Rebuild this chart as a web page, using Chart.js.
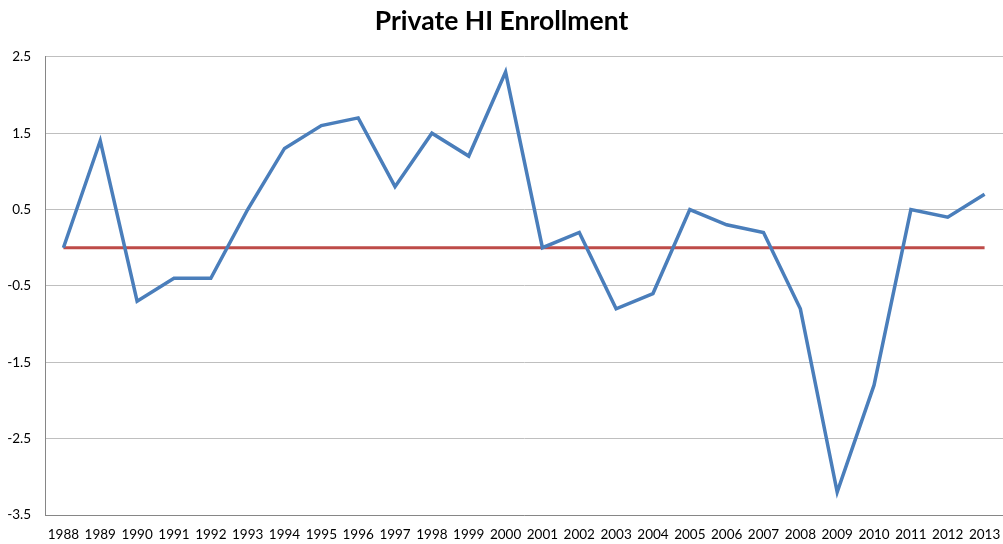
<!DOCTYPE html>
<html>
<head>
<meta charset="utf-8">
<script src="https://cdn.jsdelivr.net/npm/chart.js@4/dist/chart.umd.min.js"></script>
<style>
  html, body { margin: 0; padding: 0; background: #fff; }
</style>
</head>
<body>
<canvas id="chart" width="1003" height="544"></canvas>
<script>
const years = ['1988', '1989', '1990', '1991', '1992', '1993', '1994', '1995', '1996', '1997', '1998', '1999', '2000',
    '2001', '2002', '2003', '2004', '2005', '2006', '2007', '2008', '2009', '2010', '2011', '2012', '2013'];
const enrollment = [0, 1.4, -0.7, -0.4, -0.4, 0.5, 1.3, 1.6, 1.7, 0.8, 1.5, 1.2, 2.3,
    0, 0.2, -0.8, -0.6, 0.5, 0.3, 0.2, -0.8, -3.2, -1.8, 0.5, 0.4, 0.7];
const baseline = years.map(() => 0);

const ctx = document.getElementById('chart').getContext('2d');
Chart.defaults.font.family = 'Lato, "Open Sans", sans-serif';
Chart.defaults.color = '#000';

new Chart(ctx, {
    type: 'line',
    data: {
        labels: years,
        datasets: [{
            data: enrollment,
            borderColor: '#4A7EBB',
            borderWidth: 3.5,
            pointRadius: 0,
            tension: 0
        }, {
            data: baseline,
            borderColor: '#BE4B48',
            borderWidth: 3,
            pointRadius: 0
        }]
    },
    options: {
        responsive: false,
        animation: false,
        layout: { padding: { left: 0, right: 0, top: 6, bottom: 0 } },
        plugins: {
            legend: { display: false },
            tooltip: { enabled: false },
            title: {
                display: true,
                text: 'Private HI Enrollment',
                font: { size: 26.5, weight: 'bold' },
                padding: { top: 0, bottom: 19 }
            }
        },
        scales: {
            x: {
                offset: true,
                afterFit: (axis) => { axis.paddingLeft = 0; axis.paddingRight = 0; axis.height = 29; },
                grid: { display: false, drawTicks: false },
                border: { color: '#868686' },
                ticks: { font: { size: 13.5 }, maxRotation: 0, autoSkip: false, padding: 12 }
            },
            y: {
                min: -3.5,
                max: 2.5,
                afterFit: (axis) => { axis.width = 45; },
                afterBuildTicks: (axis) => {
                    axis.ticks = [];
                    for (let v = -3.5; v <= 2.5 + 1e-9; v += 1) axis.ticks.push({ value: Math.round(v * 10) / 10 });
                },
                grid: { color: '#BFBFBF', drawTicks: false },
                border: { color: '#868686' },
                ticks: { font: { size: 13.5 }, padding: 14 }
            }
        }
    }
});
</script>
</body>
</html>
